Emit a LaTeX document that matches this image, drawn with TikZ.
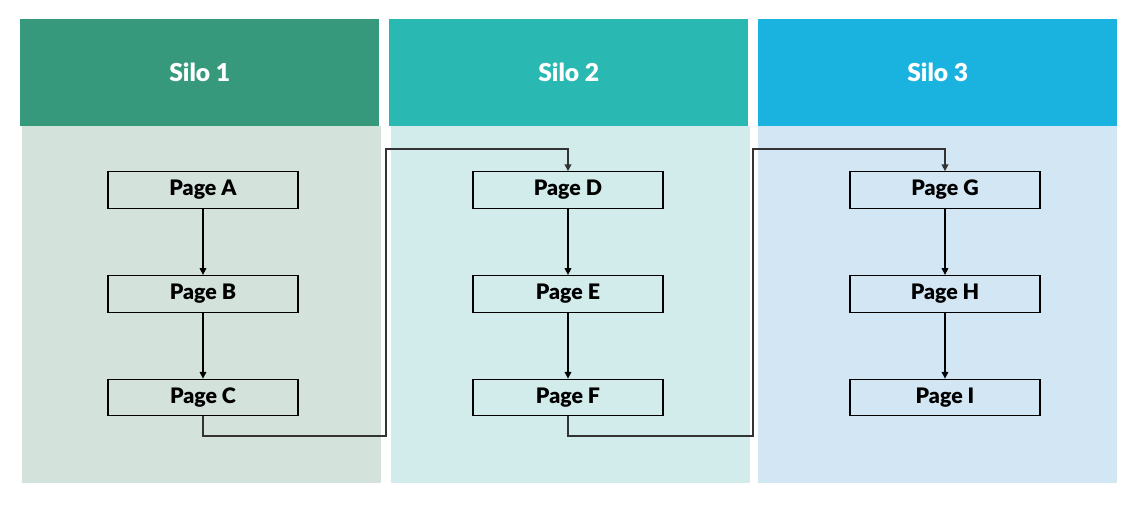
\documentclass[tikz,border=0pt]{standalone}
\usepackage{fontspec}
\setmainfont{Lato}[BoldFont={Lato Black}]
\usepackage{tikz}
\usetikzlibrary{calc, arrows.meta, positioning}
\definecolor{siloonehead}{HTML}{37997B}
\definecolor{silotwohead}{HTML}{2AB8B2}
\definecolor{silothreehead}{HTML}{1AB3DF}
\definecolor{siloonebody}{HTML}{D3E2DB}
\definecolor{silotwobody}{HTML}{D2EBEB}
\definecolor{silothreebody}{HTML}{D2E7F3}
\definecolor{linkgray}{HTML}{333333}

\begin{document}
\begin{tikzpicture}[
        x=0.75pt, y=-0.75pt,
        head/.style = {rectangle, inner sep=0pt, minimum width=269.25pt, minimum height=80.25pt, font=\fontsize{18.5}{22}\selectfont\bfseries, text=white},
        body/.style = {rectangle, inner sep=0pt, minimum width=269.25pt, minimum height=267.75pt},
        page/.style = {draw=black, rectangle, line width=0.8pt, inner sep=0pt, minimum width=142.5pt, minimum height=27.5pt, font=\fontsize{16}{18}\selectfont\bfseries},
        arrow/.style = {draw=black, line width=0.8pt, -{Triangle[width=5pt, length=5pt]}},
        link/.style = {draw=linkgray, line width=1pt, -{Triangle[width=5pt, length=5pt]}}
    ]
        \useasboundingbox (0,0) rectangle (1139,505);

        % Silo columns
        \node (body1) [body, fill=siloonebody, anchor=north west] at (22,126) {};
        \node (body2) [body, fill=silotwobody, anchor=north west] at (391,126) {};
        \node (body3) [body, fill=silothreebody, anchor=north west] at (758,126) {};
        \node (head1) [head, fill=siloonehead, anchor=north west] at (20,19) {Silo 1};
        \node (head2) [head, fill=silotwohead, anchor=north west] at (389,19) {Silo 2};
        \node (head3) [head, fill=silothreehead, anchor=north west] at (758,19) {Silo 3};

        % Pages
        \node (pageA) [page] at (203,190) {Page A};
        \node (pageB) [page, below=49.5pt of pageA] {Page B};
        \node (pageC) [page, below=49.5pt of pageB] {Page C};
        \node (pageD) [page] at (568,190) {Page D};
        \node (pageE) [page, below=49.5pt of pageD] {Page E};
        \node (pageF) [page, below=49.5pt of pageE] {Page F};
        \node (pageG) [page] at (945,190) {Page G};
        \node (pageH) [page, below=49.5pt of pageG] {Page H};
        \node (pageI) [page, below=49.5pt of pageH] {Page I};

        % Arrows inside silos
        \draw [arrow] (pageA) -- (pageB);
        \draw [arrow] (pageB) -- (pageC);
        \draw [arrow] (pageD) -- (pageE);
        \draw [arrow] (pageE) -- (pageF);
        \draw [arrow] (pageG) -- (pageH);
        \draw [arrow] (pageH) -- (pageI);

        % Links between silos
        \coordinate (c1) at (386,436);
        \coordinate (c2) at (753,436);
        \draw [link] (pageC.south) |- (c1) |- ($(pageD.north)+(0,-22)$) -- (pageD.north);
        \draw [link] (pageF.south) |- (c2) |- ($(pageG.north)+(0,-22)$) -- (pageG.north);

    \end{tikzpicture}
\end{document}
